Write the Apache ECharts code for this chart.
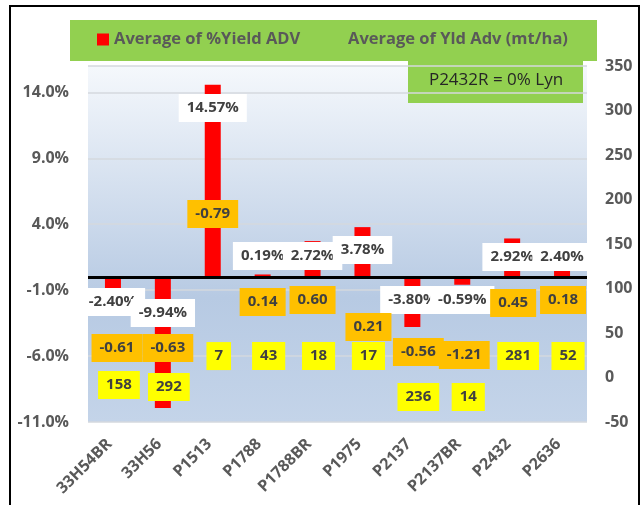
<!DOCTYPE html>
<html>
<head>
<meta charset="utf-8">
<script src="https://cdn.jsdelivr.net/npm/echarts@6/dist/echarts.min.js"></script>
<style>
html,body{margin:0;padding:0;background:#fff;}
#chart{width:641px;height:505px;}
</style>
</head>
<body>
<div id="chart"></div>
<script>
// data
var categories = ['33H54BR','33H56','P1513','P1788','P1788BR','P1975','P2137','P2137BR','P2432','P2636'];
var yieldPct = [-2.40,-9.94,14.57,0.19,2.72,3.78,-3.80,-0.59,2.92,2.40];   // Average of %Yield ADV
var yldAdv = [-0.61,-0.63,-0.79,0.14,0.60,0.21,-0.56,-1.21,0.45,0.18];     // Average of Yld Adv (mt/ha)
var counts = [158,292,7,43,18,17,236,14,281,52];
var leftTicks = [-11,-6,-1,4,9,14];
var rightTicks = [-50,0,50,100,150,200,250,300,350];

// where the (hand placed) labels sit, in % units of the left axis
var pctLabelAt = [-1.90,-2.73,12.81,1.59,1.59,2.04,-1.75,-1.75,1.51,1.51];
var advLabelAt = [-5.39,-5.39,4.78,-1.90,-1.75,-3.79,-5.69,-5.92,-1.97,-1.75];
var advLabelDx = [4,5,0,0,0,6,6,2,1,1];
var countLabelAt = [-8.19,-8.35,-6.0,-6.0,-6.0,-6.0,-9.10,-9.10,-6.0,-6.0];

var FONT = 'Open Sans';
var boxLabel = function(bg, fmt){
	return {
		show: true,
		position: 'inside',
		formatter: fmt,
		backgroundColor: bg,
		color: '#404040',
		fontFamily: FONT,
		fontWeight: 'bold',
		fontSize: 15,
		lineHeight: 20,
		padding: [4, 8]
	};
};

var pctPts = [], advPts = [], cntPts = [];
for (let i = 0; i < categories.length; i++) {
	pctPts.push({value: [i, pctLabelAt[i], yieldPct[i]]});
	advPts.push({value: [i, advLabelAt[i], yldAdv[i]], label: {offset: [advLabelDx[i], 0]}});
	cntPts.push({value: [i, countLabelAt[i], counts[i]], label: {offset: [6, 0]}});
}

var labelLayer = function(name, z, bg, fmt, pts){
	return {
		name: name,
		type: 'scatter',
		z: z, silent: true,
		symbolSize: 1,
		itemStyle: {color: 'rgba(0,0,0,0)', opacity: 1},
		label: boxLabel(bg, fmt),
		data: pts
	};
};

var myChart = echarts.init(document.getElementById('chart'));
var option = {
	animation: false,
	backgroundColor: '#fff',
	graphic: [
		{type: 'rect', z: -10, shape: {x: 10, y: 6, width: 629, height: 520},
			style: {fill: null, stroke: '#000', lineWidth: 2}},
		{type: 'rect', z: 0, shape: {x: 70, y: 20, width: 527, height: 41}, style: {fill: '#92d050'}},
		{type: 'group', z: 100, left: 408, top: 57, children: [
			{type: 'rect', shape: {x: 0, y: 0, width: 175, height: 46}, style: {fill: '#92d050'}},
			{type: 'text', x: 88, y: 23, style: {text: 'P2432R = 0% Lyn', fill: '#262626',
				font: '17px "' + FONT + '"', align: 'center', verticalAlign: 'middle'}}
		]}
	],
	legend: [
		{data: ['Average of %Yield ADV'], left: 97, top: 31, padding: 0, icon: 'rect',
			itemWidth: 12, itemHeight: 12, itemGap: 5,
			textStyle: {color: '#595959', fontSize: 16.5, fontWeight: 'bold', fontFamily: FONT}},
		{data: ['Average of Yld Adv (mt/ha)'], left: 331, top: 31, padding: 0, icon: 'rect',
			itemWidth: 12, itemHeight: 12,
			textStyle: {color: '#595959', fontSize: 16.5, fontWeight: 'bold', fontFamily: FONT}}
	],
	grid: {
		left: 88, right: 54, top: 66, bottom: 83,
		outerBoundsMode: 'none',
		show: true,
		borderWidth: 0,
		backgroundColor: new echarts.graphic.LinearGradient(0, 0, 0, 1, [
			{offset: 0, color: '#f5f8fc'},
			{offset: 0.65, color: '#b7cae3'},
			{offset: 1, color: '#c4d4e9'}
		])
	},
	xAxis: {
		type: 'category',
		data: categories,
		axisLine: {show: false},
		axisTick: {show: false},
		axisLabel: {
			rotate: 45,
			margin: 16,
			padding: [0, 5, 0, 0],
			color: '#595959',
			fontFamily: FONT,
			fontWeight: 'bold',
			fontSize: 16
		}
	},
	yAxis: [
		{
			type: 'value',
			min: leftTicks[0],
			max: 16,
			interval: leftTicks[1] - leftTicks[0],
			axisLine: {show: false},
			axisTick: {show: false},
			splitLine: {lineStyle: {color: '#d4d8de', width: 1.5}},
			axisLabel: {
				showMaxLabel: false,
				margin: 19,
				formatter: function(v){ return v.toFixed(1) + '%'; },
				color: '#595959', fontFamily: FONT, fontWeight: 'bold', fontSize: 16
			}
		},
		{
			type: 'value',
			min: rightTicks[0],
			max: rightTicks[rightTicks.length - 1],
			interval: rightTicks[1] - rightTicks[0],
			axisLine: {show: false},
			axisTick: {show: false},
			splitLine: {show: false},
			axisLabel: {
				margin: 18,
				color: '#595959', fontFamily: FONT, fontWeight: 'bold', fontSize: 16
			}
		}
	],
	series: [
		{
			name: 'Average of %Yield ADV',
			type: 'bar',
			barWidth: 16,
			itemStyle: {color: '#ff0000'},
			data: yieldPct,
			markLine: {
				silent: true,
				symbol: ['none', 'none'],
				label: {show: false},
				lineStyle: {color: '#000', width: 3, type: 'solid'},
				data: [{yAxis: 0}]
			}
		},
		labelLayer('pct labels', 5, '#ffffff', function(p){ return p.value[2].toFixed(2) + '%'; }, pctPts),
		labelLayer('Average of Yld Adv (mt/ha)', 6, '#ffc000', function(p){ return p.value[2].toFixed(2); }, advPts),
		labelLayer('count labels', 7, '#ffff00', function(p){ return String(p.value[2]); }, cntPts)
	]
};
myChart.setOption(option);
</script>
</body>
</html>
